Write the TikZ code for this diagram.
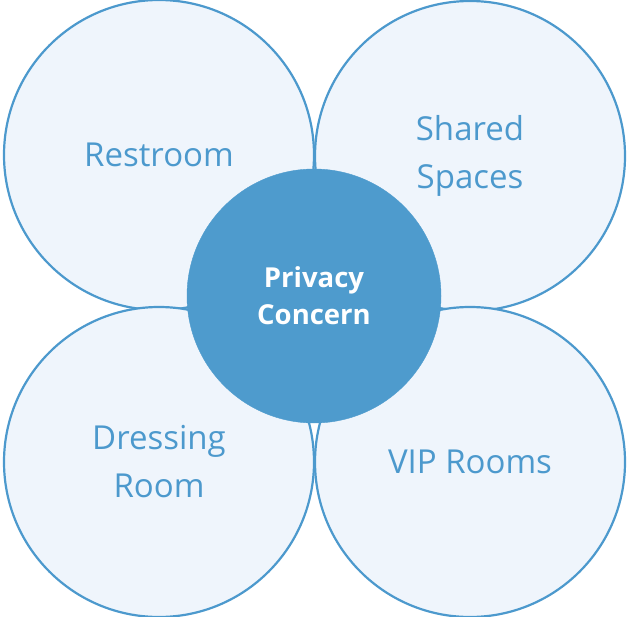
\documentclass[tikz,border=0pt]{standalone}
\usepackage{fontspec}
\setmainfont{Open Sans}
\definecolor{edge}{HTML}{4C99CD}
\definecolor{pale}{HTML}{EFF5FC}
\definecolor{core}{HTML}{4E9BCD}
\begin{document}
\begin{tikzpicture}[x=1pt,y=-1pt,
  petal/.style={circle,draw=edge,line width=2.2pt,fill=pale,minimum size=310pt,inner sep=0pt,
    text=edge,font=\fontsize{33}{48}\selectfont,align=center},
  hub/.style={circle,fill=core,draw=core,minimum size=254pt,inner sep=0pt,
    text=white,font=\bfseries\fontsize{27.5}{37}\selectfont,align=center}]
\useasboundingbox (0,0) rectangle (628,617);
\node[petal] (rest) at (159,155) {Restroom};
\node[petal] (shared) at (470,156) {Shared\\Spaces};
\node[petal] (dress) at (159,462) {Dressing\\Room};
\node[petal] (vip) at (470,462) {VIP Rooms};
\node[hub] (core) at (314,296) {Privacy\\Concern};
\end{tikzpicture}
\end{document}
